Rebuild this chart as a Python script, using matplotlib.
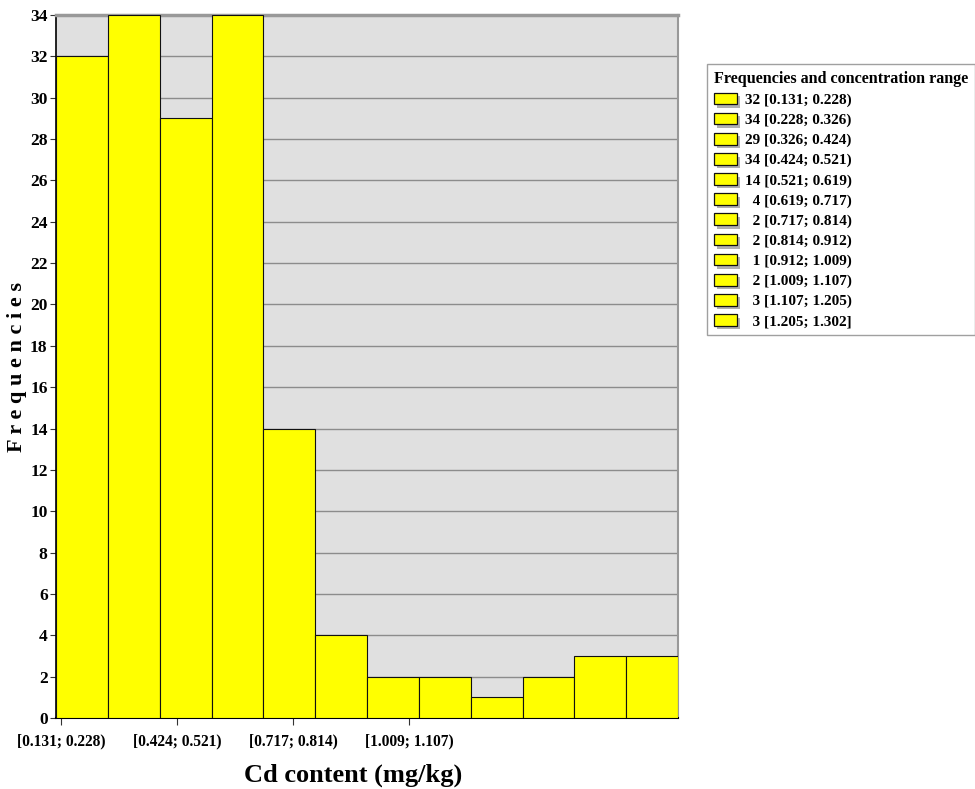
import matplotlib
import matplotlib.pyplot as plt
import matplotlib.patches as mpatches
import matplotlib.patheffects as pe
import numpy as np

matplotlib.use("Agg")

counts = [32, 34, 29, 34, 14, 4, 2, 2, 1, 2, 3, 3]
ranges = ["[0.131; 0.228)", "[0.228; 0.326)", "[0.326; 0.424)", "[0.424; 0.521)",
          "[0.521; 0.619)", "[0.619; 0.717)", "[0.717; 0.814)", "[0.814; 0.912)",
          "[0.912; 1.009)", "[1.009; 1.107)", "[1.107; 1.205)", "[1.205; 1.302]"]
tick_pos = [0.1, 2.34, 4.58, 6.81]
tick_labels = ["[0.131; 0.228)", "[0.424; 0.521)", "[0.717; 0.814)", "[1.009; 1.107)"]

plt.rcParams["font.family"] = ["Liberation Serif", "DejaVu Serif"]
plt.rcParams["font.weight"] = "bold"

fig = plt.figure(figsize=(9.75, 7.89), dpi=100)
ax = fig.add_axes([56 / 975, 1 - 718 / 789, 622 / 975, 703 / 789])
ax.set_facecolor("#e0e0e0")

x = np.arange(len(counts))
ax.bar(x, counts, width=1.0, align="edge", color="#ffff00", edgecolor="#111111",
       linewidth=0.8, zorder=3)
ax.set_xlim(0, len(counts))
ax.set_ylim(0, 34)
ax.set_yticks(range(0, 35, 2))
ax.yaxis.grid(True, color="#8c8c8c", linewidth=1.0, zorder=0)
ax.set_axisbelow(True)
ax.set_xticks(tick_pos)
ax.set_xticklabels(tick_labels)
ax.tick_params(axis="x", labelsize=11.2, length=5, pad=6, color="#333333")
ax.tick_params(axis="y", labelsize=12.5, length=4, pad=2, color="#333333")

for s in ["top", "right"]:
    ax.spines[s].set_color("#999999")
ax.spines["top"].set_linewidth(2.5)
ax.spines["right"].set_linewidth(1.5)
ax.spines["left"].set_linewidth(1.2)
ax.spines["bottom"].set_linewidth(1.5)

ax.set_xlabel("Cd content (mg/kg)", fontsize=19, fontweight="bold")
ax.xaxis.set_label_coords(0.478, -0.065)
ax.set_ylabel("F r e q u e n c i e s", fontsize=16, fontweight="bold")
ax.yaxis.set_label_coords(-0.047, 0.5)

shadow = [pe.SimplePatchShadow(offset=(2.5, -2.5), shadow_rgbFace="#b0b0b0", alpha=1.0),
          pe.Normal()]
handles = [mpatches.Rectangle((0, 0), 1, 1, facecolor="#ffff00", edgecolor="#111111",
                              linewidth=0.9, path_effects=shadow) for _ in counts]
labels = [f"\u2007{c} {r}" if c < 10 else f"{c} {r}" for c, r in zip(counts, ranges)]
leg = fig.legend(handles, labels, loc="upper left", bbox_to_anchor=(707 / 975, 1 - 64 / 789),
                 title="Frequencies and concentration range", fontsize=11,
                 title_fontproperties={"weight": "bold", "size": 11.6},
                 frameon=True, fancybox=False, edgecolor="#888888",
                 handlelength=1.5, handleheight=0.8, handletextpad=0.55,
                 labelspacing=0.38, borderpad=0.45, borderaxespad=0, alignment="left")
leg.get_frame().set_linewidth(1.0)

fig.savefig("out.png", dpi=100)
